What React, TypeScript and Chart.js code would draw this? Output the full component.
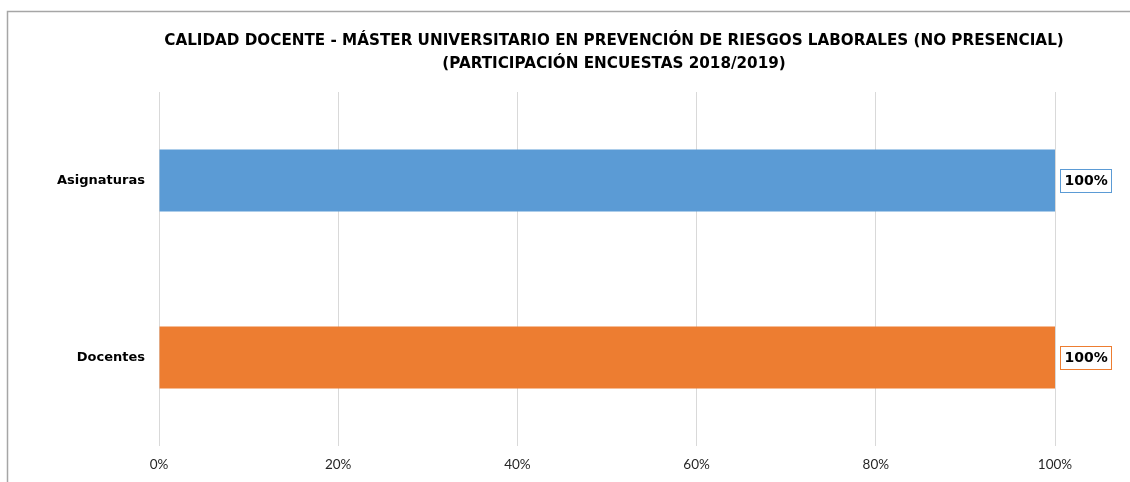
import React, { useEffect, useRef } from "react";
import { Chart, registerables } from "chart.js";

Chart.register(...registerables);

const categories = ["Asignaturas", "Docentes"];
const values = [100, 100];
const barColors = ["#5B9BD5", "#ED7D31"];
const tickValues = [0, 20, 40, 60, 80, 100];
const titleLines = [
  "CALIDAD DOCENTE - MÁSTER UNIVERSITARIO EN PREVENCIÓN DE RIESGOS LABORALES (NO PRESENCIAL)",
  "(PARTICIPACIÓN ENCUESTAS 2018/2019)",
];

const TITLE_FONT = "DejaVu Sans";

const decorPlugin = {
  id: "decor",
  beforeDraw(chart: any) {
    const ctx = chart.ctx;
    ctx.save();
    ctx.fillStyle = "#ffffff";
    ctx.fillRect(0, 0, chart.width, chart.height);
    ctx.strokeStyle = "#a6a6a6";
    ctx.lineWidth = 1.5;
    ctx.beginPath();
    ctx.moveTo(7.5, chart.height + 5);
    ctx.lineTo(7.5, 11.5);
    ctx.lineTo(chart.width + 5, 11.5);
    ctx.stroke();
    ctx.restore();
  },
  afterDraw(chart: any) {
    const ctx = chart.ctx;
    ctx.save();
    ctx.fillStyle = "#000000";
    ctx.textAlign = "center";
    ctx.textBaseline = "middle";
    ctx.font = `bold 15.2px "${TITLE_FONT}"`;
    const cx = 614;
    ctx.fillText(titleLines[0], cx, 41);
    ctx.fillText(titleLines[1], cx, 64);

    const meta = chart.getDatasetMeta(0);
    meta.data.forEach((bar: any, i: number) => {
      const text = values[i] + "%";
      ctx.font = `bold 14px "${TITLE_FONT}"`;
      const w = ctx.measureText(text).width;
      const bx = bar.x + 5;
      const bw = Math.max(50, w + 8);
      const bh = 23;
      const by = bar.y - bh / 2;
      ctx.fillStyle = "#ffffff";
      ctx.fillRect(bx, by, bw, bh);
      ctx.strokeStyle = barColors[i];
      ctx.lineWidth = 1;
      ctx.strokeRect(Math.round(bx) + 0.5, Math.round(by) + 0.5, Math.round(bw), bh);
      ctx.fillStyle = "#000000";
      ctx.textAlign = "center";
      ctx.textBaseline = "middle";
      ctx.fillText(text, bx + bw / 2 + 0.5, bar.y + 1);
    });
    ctx.restore();
  },
};

export default function App() {
  const ref = useRef<HTMLCanvasElement>(null);
  useEffect(() => {
    if (!ref.current) return;
    const chart = new Chart(ref.current, {
      type: "bar",
      data: {
        labels: categories,
        datasets: [
          {
            data: values,
            backgroundColor: barColors,
            barPercentage: 0.7,
            categoryPercentage: 0.5,
          },
        ],
      },
      options: {
        indexAxis: "y",
        responsive: false,
        animation: false,
        layout: { padding: { top: 92, right: 75, bottom: 0, left: 0 } },
        plugins: {
          legend: { display: false },
          tooltip: { enabled: false },
          title: { display: false },
        },
        scales: {
          x: {
            min: 0,
            max: 100,
            afterBuildTicks: (scale: any) => {
              scale.ticks = tickValues.map((v) => ({ value: v }));
            },
            afterFit: (scale: any) => {
              scale.height = 36;
            },
            ticks: {
              callback: (v: any) => v + "%",
              color: "#262626",
              font: { family: "Lato", size: 13.5 },
              padding: 11,
            },
            grid: { color: "#d9d9d9", lineWidth: 1, drawTicks: false },
            border: { display: false },
          },
          y: {
            afterFit: (scale: any) => {
              scale.width = 159;
            },
            ticks: {
              color: "#000000",
              font: { family: TITLE_FONT, size: 13, weight: "bold" },
              padding: 14,
            },
            grid: { display: false, drawTicks: false },
            border: { display: false },
          },
        },
      },
      plugins: [decorPlugin],
    } as any);
    return () => chart.destroy();
  }, []);
  return (
    <canvas
      ref={ref}
      width={1130}
      height={482}
      style={{ position: "absolute", left: 0, top: 0, display: "block" }}
    />
  );
}
